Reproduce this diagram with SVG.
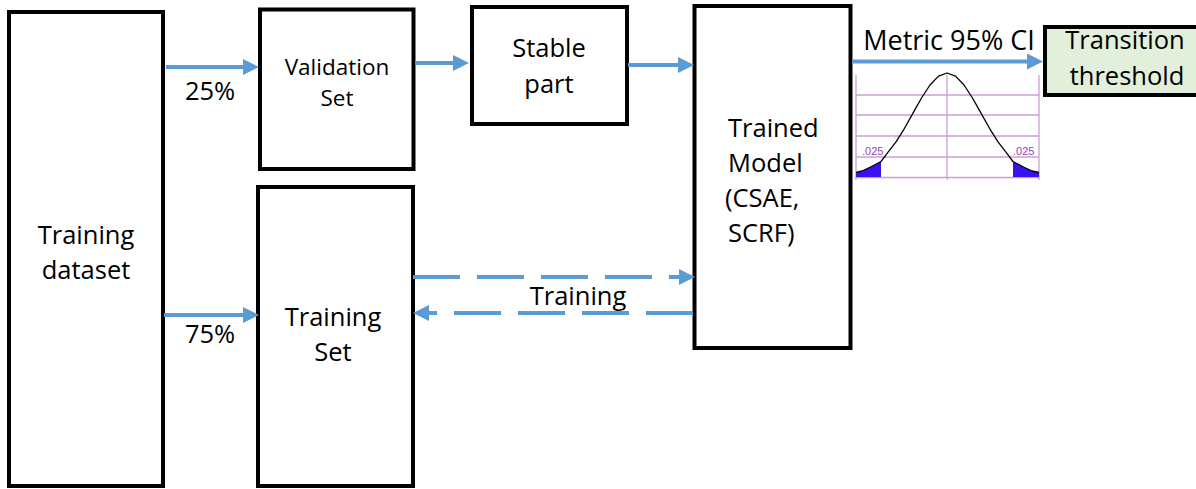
<svg xmlns="http://www.w3.org/2000/svg" width="1196" height="489" viewBox="0 0 1196 489">
  <style>
    .box { fill: #ffffff; stroke: #000000; stroke-width: 4; }
    .green { fill: #E2EFDA; }
    .lbl { font-family: "Open Sans", "Liberation Sans", sans-serif; font-size: 25.5px; fill: #000000; text-anchor: middle; }
    .small { font-size: 22.5px; }
    .left { text-anchor: start; }
    .conn { stroke: #5B9BD5; stroke-width: 4; fill: none; }
    .dash { stroke-dasharray: 47 17; }
    .grid { stroke: #C89FD3; stroke-width: 1.3; fill: none; }
    .tail { fill: #3A10F0; }
    .tick { font-family: "Liberation Sans Narrow", "Liberation Sans", sans-serif; font-size: 11px; fill: #9A3FB0; }
  </style>
  <defs>
    <marker id="head" viewBox="0 0 4 4" markerWidth="4" markerHeight="4" refX="0.5" refY="2" orient="auto">
      <path d="M0,0 L4,2 L0,4 z" fill="#5B9BD5"/>
    </marker>
  </defs>

  <!-- boxes -->
  <g id="training-dataset">
    <rect class="box" x="9" y="12" width="154" height="474"/>
    <text class="lbl" x="86" y="244">Training</text>
    <text class="lbl" x="86" y="279">dataset</text>
  </g>
  <g id="validation-set">
    <rect class="box" x="260" y="9.5" width="153.5" height="159.5"/>
    <text class="lbl small" x="337" y="75">Validation</text>
    <text class="lbl small" x="337" y="106">Set</text>
  </g>
  <g id="stable-part">
    <rect class="box" x="472" y="7" width="155" height="117"/>
    <text class="lbl" x="549" y="57">Stable</text>
    <text class="lbl" x="549" y="93">part</text>
  </g>
  <g id="trained-model">
    <rect class="box" x="694.5" y="6" width="156" height="342"/>
    <text class="lbl left" x="728" y="137">Trained</text>
    <text class="lbl left" x="728" y="172">Model</text>
    <text class="lbl left" x="725" y="207">(CSAE,</text>
    <text class="lbl left" x="728" y="242">SCRF)</text>
  </g>
  <g id="training-set">
    <rect class="box" x="258" y="187" width="155" height="299"/>
    <text class="lbl" x="333" y="326">Training</text>
    <text class="lbl" x="333" y="361">Set</text>
  </g>
  <g id="transition-threshold">
    <rect class="box green" x="1045" y="27" width="170" height="68"/>
    <text class="lbl" x="1125" y="49">Transition</text>
    <text class="lbl" x="1127" y="85">threshold</text>
  </g>

  <!-- normal distribution with 2.5% tails -->
  <g id="ci-curve">
    <g class="grid">
      <line x1="856" y1="95" x2="1039" y2="95"/>
      <line x1="856" y1="115" x2="1039" y2="115"/>
      <line x1="856" y1="136" x2="1039" y2="136"/>
      <line x1="856" y1="157" x2="1039" y2="157"/>
      <line x1="856" y1="177.5" x2="1039" y2="177.5"/>
      <line x1="856" y1="75" x2="856" y2="180"/>
      <line x1="947" y1="75" x2="947" y2="180"/>
      <line x1="1039" y1="75" x2="1039" y2="180"/>
    </g>
    <path class="tail" d="M856,172.5 L862,171 L870.5,167 L881,161.5 L881,177 L856,177 z"/>
    <path class="tail" d="M1013,161.5 L1023.5,167 L1032,171 L1039,172.5 L1039,177 L1013,177 z"/>
    <path d="M856,172.5 L862,171 L870.5,167 L881,161.5 L887.5,152.9 L896,141.9 L904.5,128.3 L913,113.1 L921.5,98 L930,85 L938.5,76.1 L947,73 L955.5,76.1 L964,85 L972.5,98 L981,113.1 L989.5,128.3 L998,141.9 L1006.5,152.9 L1013,161.5 L1023.5,167 L1032,171 L1039,172.5"
          fill="none" stroke="#000000" stroke-width="1.3" stroke-linejoin="round"/>
    <text class="tick" x="862" y="155">.025</text>
    <text class="tick" x="1013" y="155">.025</text>
  </g>

  <!-- connectors -->
  <g id="connectors">
    <line class="conn" x1="166" y1="67" x2="245" y2="67" marker-end="url(#head)"/>
    <line class="conn" x1="164" y1="315" x2="245" y2="315" marker-end="url(#head)"/>
    <line class="conn" x1="415" y1="63" x2="455" y2="63" marker-end="url(#head)"/>
    <line class="conn" x1="628" y1="65" x2="680" y2="65" marker-end="url(#head)"/>
    <line class="conn" x1="852" y1="61.5" x2="1029" y2="61.5" marker-end="url(#head)"/>
    <line class="conn dash" x1="413" y1="277" x2="681" y2="277" marker-end="url(#head)"/>
    <line class="conn dash" x1="693" y1="313" x2="427" y2="313" marker-end="url(#head)"/>
  </g>

  <!-- connector labels -->
  <g id="labels">
    <text class="lbl" x="210" y="100">25%</text>
    <text class="lbl" x="210" y="343">75%</text>
    <text class="lbl" x="578" y="305">Training</text>
    <text class="lbl" x="949" y="50" style="font-size:27px">Metric 95% CI</text>
  </g>
</svg>
